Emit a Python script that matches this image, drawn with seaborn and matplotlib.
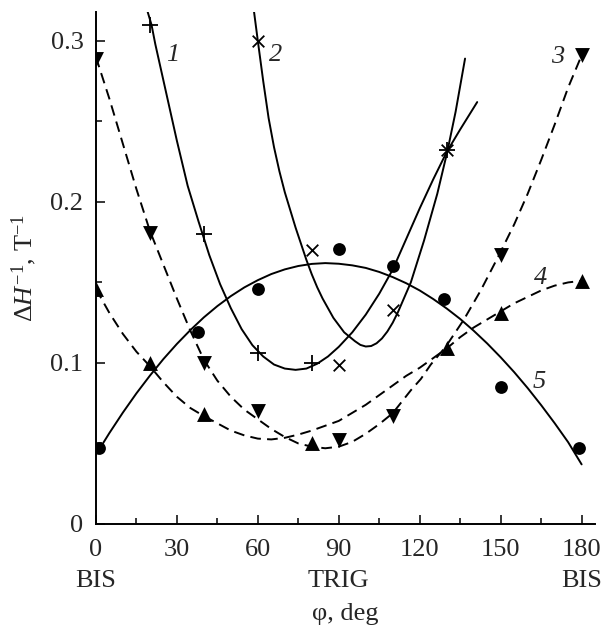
import numpy as np
import matplotlib
matplotlib.use('Agg')
import matplotlib.pyplot as plt
import seaborn as sns

# measured points (markers)
s1_x = [20, 40, 60, 80, 130]
s1_y = [0.310, 0.180, 0.106, 0.100, 0.232]
s2_x = [60, 80, 90, 110, 130]
s2_y = [0.300, 0.170, 0.099, 0.133, 0.232]
s3_x = [0, 20, 40, 60, 90, 110, 150, 180]
s3_y = [0.289, 0.181, 0.100, 0.070, 0.052, 0.067, 0.167, 0.291]
s4_x = [0, 20, 40, 80, 130, 150, 180]
s4_y = [0.146, 0.100, 0.068, 0.050, 0.109, 0.131, 0.151]
s5_x = [1, 38, 60, 90, 110, 129, 150, 179]
s5_y = [0.047, 0.119, 0.146, 0.171, 0.160, 0.140, 0.085, 0.047]

# fitted curves
c1_x = [19, 20.6, 22, 26, 30, 34, 38, 42, 46, 50, 54, 58, 62, 66, 70, 74, 78, 82, 86, 90,
        95, 100, 105, 110, 115, 120, 125, 130, 135, 141.3]
c1_y = [0.319, 0.310, 0.298, 0.268, 0.238, 0.210, 0.188, 0.167, 0.149, 0.134, 0.121, 0.111,
        0.104, 0.099, 0.0965, 0.0957, 0.0965, 0.0995, 0.104, 0.110, 0.119, 0.130, 0.143,
        0.158, 0.177, 0.196, 0.214, 0.231, 0.245, 0.262]
c2_x = [58.6, 60, 62, 64, 66, 68, 70, 72, 74, 76, 78, 80, 82, 84, 88, 92, 96, 98, 100, 102,
        104, 106, 108, 110, 112, 116.7, 121.6, 126.5, 130.2, 133.3, 136.8]
c2_y = [0.318, 0.300, 0.275, 0.252, 0.234, 0.219, 0.206, 0.195, 0.184, 0.174, 0.164, 0.155,
        0.147, 0.140, 0.128, 0.119, 0.1135, 0.1112, 0.1102, 0.1105, 0.1122, 0.1152, 0.1195,
        0.125, 0.1318, 0.150, 0.176, 0.205, 0.231, 0.256, 0.289]
c3_x = [0, 5, 10, 15, 20, 25, 30, 35, 40, 45, 50, 55, 60, 65, 70, 75, 80, 85, 90, 95, 100,
        105, 110, 116.7, 120.4, 124.1, 129.6, 136.4, 142.6, 149.4, 155, 160, 165, 170, 175, 180]
c3_y = [0.290, 0.264, 0.236, 0.208, 0.182, 0.161, 0.140, 0.120, 0.102, 0.089, 0.079, 0.071,
        0.065, 0.059, 0.054, 0.050, 0.048, 0.047, 0.048, 0.051, 0.056, 0.062, 0.0688, 0.083,
        0.090, 0.099, 0.110, 0.127, 0.145, 0.167, 0.186, 0.205, 0.226, 0.248, 0.271, 0.291]
c4_x = [0, 5, 10, 15, 20, 25, 30, 35, 40, 45, 50, 55, 60, 65, 70, 75, 80, 85, 90, 95, 100,
        105, 110, 115, 120, 125, 130, 135, 140, 145, 150, 155, 160, 165, 170, 175, 180]
c4_y = [0.146, 0.131, 0.118, 0.107, 0.098, 0.088, 0.079, 0.072, 0.067, 0.0625, 0.058, 0.055,
        0.053, 0.0525, 0.0535, 0.0555, 0.058, 0.061, 0.064, 0.069, 0.074, 0.080, 0.086, 0.092,
        0.097, 0.103, 0.109, 0.116, 0.122, 0.127, 0.132, 0.137, 0.141, 0.145, 0.148, 0.150, 0.151]
c5_x = [0, 5, 10, 15, 20, 25, 30, 35, 40, 45, 50, 55, 60, 65, 70, 75, 80, 85, 90, 95, 100,
        105, 110, 115, 120, 125, 130, 135, 140, 145, 150, 155, 160, 165, 170, 175, 180]
c5_y = [0.043, 0.0565, 0.0692, 0.0811, 0.0921, 0.1024, 0.1118, 0.1204, 0.1283, 0.1353,
        0.1415, 0.1469, 0.1514, 0.1552, 0.1581, 0.1602, 0.1615, 0.162, 0.1616, 0.1606, 0.159,
        0.1565, 0.1533, 0.1495, 0.145, 0.1397, 0.1338, 0.1273, 0.120, 0.1121, 0.1035, 0.0943,
        0.0844, 0.0738, 0.0626, 0.0508, 0.037]

x_ticks = [0, 30, 60, 90, 120, 150, 180]
x_ticklabels = ['0\nBIS', '30', '60', '90\nTRIG', '120', '150', '180\nBIS']
y_ticks = [0, 0.1, 0.2, 0.3]
y_ticklabels = ['0', '0.1', '0.2', '0.3']
curve_labels = ['1', '2', '3', '4', '5']
label_x = [28.4, 66.7, 171, 164.8, 164.2]
label_y = [0.291, 0.291, 0.290, 0.153, 0.088]

sns.set_theme(style='ticks')
plt.rcParams['font.family'] = ['Liberation Serif', 'DejaVu Serif']
plt.rcParams['mathtext.fontset'] = 'custom'
plt.rcParams['mathtext.rm'] = 'Liberation Serif'
plt.rcParams['mathtext.it'] = 'Liberation Serif:italic'

fig = plt.figure(figsize=(6.11, 6.26), dpi=100)
ax = fig.add_axes([0.157, 0.163, 0.817, 0.818])

solid = dict(color='black', lw=1.4, sort=False, estimator=None, ax=ax)
dashed = dict(color='black', lw=1.4, sort=False, estimator=None, ax=ax, linestyle=(0, (5.5, 3.2)))
sns.lineplot(x=c1_x, y=c1_y, **solid)
sns.lineplot(x=c2_x, y=c2_y, **solid)
sns.lineplot(x=c5_x, y=c5_y, **solid)
sns.lineplot(x=c3_x, y=c3_y, **dashed)
sns.lineplot(x=c4_x, y=c4_y, **dashed)

sns.scatterplot(x=s1_x, y=s1_y, marker='+', color='black', s=140, linewidth=1.3, ax=ax, zorder=3)
sns.scatterplot(x=s2_x, y=s2_y, marker='x', color='black', s=70, linewidth=1.3, ax=ax, zorder=3)
sns.scatterplot(x=s3_x, y=s3_y, marker='v', color='black', s=115, linewidth=0, ax=ax, zorder=3)
sns.scatterplot(x=s4_x, y=s4_y, marker='^', color='black', s=115, linewidth=0, ax=ax, zorder=3)
sns.scatterplot(x=s5_x, y=s5_y, marker='o', color='black', s=85, linewidth=0, ax=ax, zorder=3)

for t, lx, ly in zip(curve_labels, label_x, label_y):
    ax.text(lx, ly, t, fontsize=19, style='italic', ha='center', va='center')

ax.set_xlim(0, 185)
ax.set_ylim(0, 0.318)
ax.set_xticks(x_ticks)
ax.set_xticklabels(x_ticklabels, fontsize=19, linespacing=1.5)
ax.set_xticks(np.arange(15, 180, 30), minor=True)
ax.set_yticks(y_ticks)
ax.set_yticklabels(y_ticklabels, fontsize=19)
ax.set_yticks([0.05, 0.15, 0.25], minor=True)
ax.tick_params(which='both', direction='in', width=1.1, color='black')
ax.tick_params(which='major', length=6.7)
ax.tick_params(which='minor', length=4)
ax.tick_params(axis='x', pad=11)
ax.tick_params(axis='y', pad=9)

sns.despine(ax=ax)
for sp in ['left', 'bottom']:
    ax.spines[sp].set_linewidth(1.4)
    ax.spines[sp].set_color('black')

ax.set_xlabel('φ, deg', fontsize=19, labelpad=8)
ax.set_ylabel(r'$\Delta H^{-1}$, T$^{-1}$', fontsize=19, labelpad=8)

fig.savefig('out.png', dpi=100)
